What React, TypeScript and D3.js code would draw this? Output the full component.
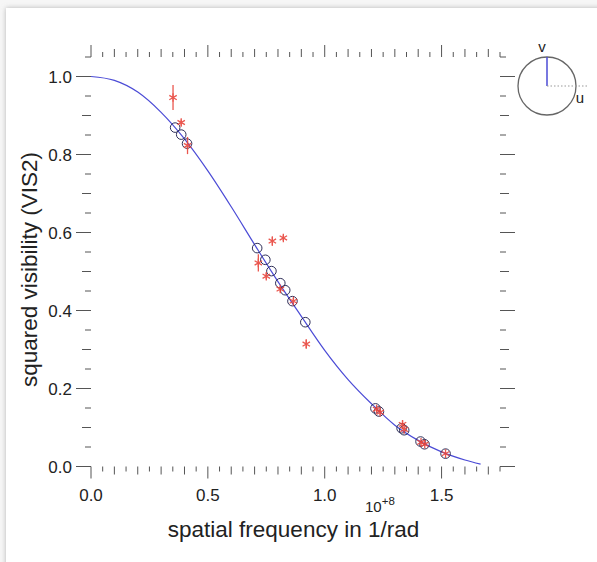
import React from "react";
import * as d3 from "d3";

// ---- data ----
const curveX = [0, 0.1, 0.2, 0.3, 0.4, 0.5, 0.6, 0.7, 0.8, 0.9, 1.0, 1.1, 1.2, 1.3, 1.4, 1.5, 1.6, 1.667];
const curveY = [1.0, 0.99, 0.96, 0.908, 0.84, 0.758, 0.666, 0.569, 0.474, 0.385, 0.298, 0.223, 0.161, 0.106, 0.067, 0.0374, 0.0166, 0.006];

const modelX = [0.36, 0.386, 0.411, 0.711, 0.746, 0.772, 0.81, 0.831, 0.862, 0.917, 1.217, 1.232, 1.329, 1.34, 1.41, 1.427, 1.517];
const modelY = [0.869, 0.851, 0.828, 0.56, 0.53, 0.501, 0.47, 0.452, 0.424, 0.37, 0.149, 0.141, 0.098, 0.093, 0.064, 0.057, 0.033];

const dataX = [0.351, 0.386, 0.413, 0.716, 0.75, 0.776, 0.81, 0.823, 0.866, 0.921, 1.222, 1.237, 1.333, 1.34, 1.412, 1.428, 1.517];
const dataY = [0.946, 0.882, 0.823, 0.522, 0.488, 0.578, 0.455, 0.586, 0.424, 0.314, 0.147, 0.139, 0.108, 0.095, 0.062, 0.057, 0.033];
const dataErr = [0.032, 0.008, 0.022, 0.022, 0.008, 0.012, 0.008, 0.008, 0.008, 0.012, 0.008, 0.006, 0.01, 0.006, 0.005, 0.005, 0.004];

const xMajorTicks = [0, 0.5, 1.0, 1.5];
const xTickLabels = ["0.0", "0.5", "1.0", "1.5"];
const yMajorTicks = [0, 0.2, 0.4, 0.6, 0.8, 1.0];
const yTickLabels = ["0.0", "0.2", "0.4", "0.6", "0.8", "1.0"];

const FONT = "'Liberation Sans', Arial, Helvetica, sans-serif";

export default function App() {
  const W = 597, H = 562;
  const x = d3.scaleLinear().domain([0, 1.75]).range([91, 500]);
  const y = d3.scaleLinear().domain([0, 1.05]).range([466.5, 57]);
  const [x0, x1] = x.range();
  const [yb, yt] = y.range();

  const minorX = d3.range(0, 35.5).map((i) => i * 0.05);
  const minorY = d3.range(0, 21.5).map((i) => i * 0.05);
  const isMajorX = (v: number) => xMajorTicks.some((t) => Math.abs(t - v) < 1e-6);
  const isMajorY = (v: number) => yMajorTicks.some((t) => Math.abs(t - v) < 1e-6);
  const isTenth = (v: number) => Math.abs(Math.round(v * 10) - v * 10) < 1e-6;

  const line = d3
    .line<number>()
    .x((_, i) => x(curveX[i]))
    .y((d) => y(d))
    .curve(d3.curveMonotoneX);

  const tickColor = "#555";
  const red = "#e8453c";
  const blue = "#4b4bd6";

  const star = (cx: number, cy: number, r: number) => {
    const segs = [90, 30, -30].map((a) => {
      const rad = (a * Math.PI) / 180;
      const dx = r * Math.cos(rad), dy = r * Math.sin(rad);
      return `M${cx - dx},${cy - dy}L${cx + dx},${cy + dy}`;
    });
    return segs.join("");
  };

  const icx = 547, icy = 86, ir = 29;

  return (
    <div style={{ position: "fixed", left: 0, top: 0 }}>
      <svg width={W} height={H} style={{ display: "block" }}>
        <defs>
          <filter id="sh" x="-5%" y="-5%" width="110%" height="110%">
            <feDropShadow dx="0" dy="0" stdDeviation="2.5" floodColor="#999" floodOpacity="0.7" />
          </filter>
        </defs>
        <rect x={0} y={0} width={W} height={H} fill="#f6f6f6" />
        <rect x={6} y={8} width={W + 20} height={H + 20} fill="#fff" filter="url(#sh)" />

        {/* bottom & top ticks */}
        {minorX.map((v, i) => {
          const len = isMajorX(v) ? 12 : isTenth(v) ? 8 : 5;
          const px = x(v);
          return (
            <g key={"xt" + i} stroke={tickColor} strokeWidth={1}>
              <line x1={px} x2={px} y1={yb} y2={yb + len} />
              <line x1={px} x2={px} y1={yt} y2={yt - len} />
            </g>
          );
        })}
        {/* left & right ticks */}
        {minorY.map((v, i) => {
          const len = isMajorY(v) ? 15 : isTenth(v) ? 9 : 6;
          const py = y(v);
          return (
            <g key={"yt" + i} stroke={tickColor} strokeWidth={1}>
              <line x1={x0} x2={x0 - len} y1={py} y2={py} />
              <line x1={x1} x2={x1 + len} y1={py} y2={py} />
            </g>
          );
        })}

        {/* tick labels */}
        {xMajorTicks.map((v, i) => (
          <text key={"xl" + i} x={x(v)} y={501} textAnchor="middle" fontFamily={FONT} fontSize={17} fill="#222">
            {xTickLabels[i]}
          </text>
        ))}
        {yMajorTicks.map((v, i) => (
          <text key={"yl" + i} x={72} y={y(v) + 6} textAnchor="end" fontFamily={FONT} fontSize={17} fill="#222">
            {yTickLabels[i]}
          </text>
        ))}

        {/* titles */}
        <text x={293.5} y={537} textAnchor="middle" fontFamily={FONT} fontSize={22.5} fill="#222">
          spatial frequency in 1/rad
        </text>
        <text x={365} y={512} fontFamily={FONT} fontSize={15} fill="#222">
          10
          <tspan fontSize={11.5} dy={-7}>+8</tspan>
        </text>
        <text
          transform={`translate(37,269.5) rotate(-90)`}
          textAnchor="middle"
          fontFamily={FONT}
          fontSize={22.5}
          fill="#222"
        >
          squared visibility (VIS2)
        </text>

        {/* model curve */}
        <path d={line(curveY) || ""} fill="none" stroke={blue} strokeWidth={1.2} />

        {/* model points */}
        {modelX.map((v, i) => (
          <circle key={"m" + i} cx={x(v)} cy={y(modelY[i])} r={4.8} fill="none" stroke="#2e2e58" strokeWidth={1} />
        ))}

        {/* data with error bars */}
        {dataX.map((v, i) => {
          const px = x(v);
          return (
            <g key={"d" + i} stroke={red} strokeWidth={1.3} opacity={0.9}>
              <line x1={px} x2={px} y1={y(dataY[i] - dataErr[i])} y2={y(dataY[i] + dataErr[i])} />
              <path d={star(px, y(dataY[i]), 4.3)} fill="none" />
            </g>
          );
        })}

        {/* uv inset */}
        <circle cx={icx} cy={icy} r={ir} fill="none" stroke="#666" strokeWidth={1.3} />
        <line x1={icx} x2={icx} y1={icy} y2={icy - ir} stroke={blue} strokeWidth={1.5} />
        <line x1={icx} x2={icx + 41} y1={icy} y2={icy} stroke="#999" strokeWidth={1.2} strokeDasharray="1.5,2" />
        <text x={542} y={52} textAnchor="middle" fontFamily={FONT} fontSize={15} fill="#222">v</text>
        <text x={580} y={103} textAnchor="middle" fontFamily={FONT} fontSize={15} fill="#222">u</text>
      </svg>
    </div>
  );
}
